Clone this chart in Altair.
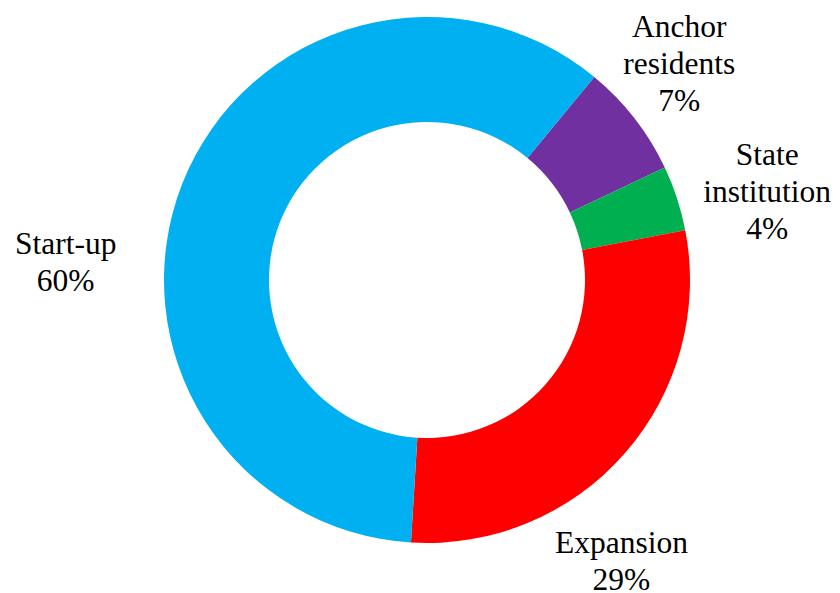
import math
import altair as alt
import pandas as pd

# ---- data ----
categories = ["Anchor residents", "State institution", "Expansion", "Start-up"]
label_lines = ["Anchor|residents", "State|institution", "Expansion", "Start-up"]
shares = [7, 4, 29, 60]
colors = ["#7030A0", "#00B050", "#FF0000", "#00B0F0"]

df = pd.DataFrame({
    "category": categories,
    "label": label_lines,
    "share": shares,
    "order": list(range(len(categories))),
})

start = math.radians(39.5)
theta_scale = alt.Scale(domain=[0, 100], range=[start, start + 2 * math.pi])

base = alt.Chart(df)

arcs = base.mark_arc(innerRadius=158, outerRadius=263).encode(
    theta=alt.Theta("share:Q", stack=True, scale=theta_scale),
    color=alt.Color("category:N", scale=alt.Scale(domain=categories, range=colors), legend=None),
    order=alt.Order("order:Q"),
)

lab = base.transform_window(
    cum="sum(share)", sort=[alt.SortField("order")], frame=[None, 0]
).transform_calculate(
    mid="datum.cum - datum.share / 2",
    txt="datum.label + '|' + datum.share + '%'",
)

nudges = {
    "Anchor residents": (-16, -43),
    "State institution": (17, -18),
    "Expansion": (-61, 40),
    "Start-up": (-45, 90),
}

texts = []
for cat in categories:
    ddx, ddy = nudges[cat]
    t = lab.transform_filter(alt.datum.category == cat).mark_text(
        radius=340, dx=ddx, dy=ddy,
        font="Liberation Serif", fontSize=31.5, lineHeight=37, lineBreak="|",
        align="center", baseline="middle", color="black",
    ).encode(
        theta=alt.Theta("mid:Q", stack=False, scale=theta_scale),
        text="txt:N",
    )
    texts.append(t)

chart = alt.layer(arcs, *texts).properties(
    width=800,
    height=544,
    padding={"left": 19, "top": 0, "right": 5, "bottom": 41},
    autosize=alt.AutoSizeParams(type="none"),
    background="white",
).configure_view(stroke=None)

chart.save("out.html", embed_options={"renderer": "svg", "actions": False})
